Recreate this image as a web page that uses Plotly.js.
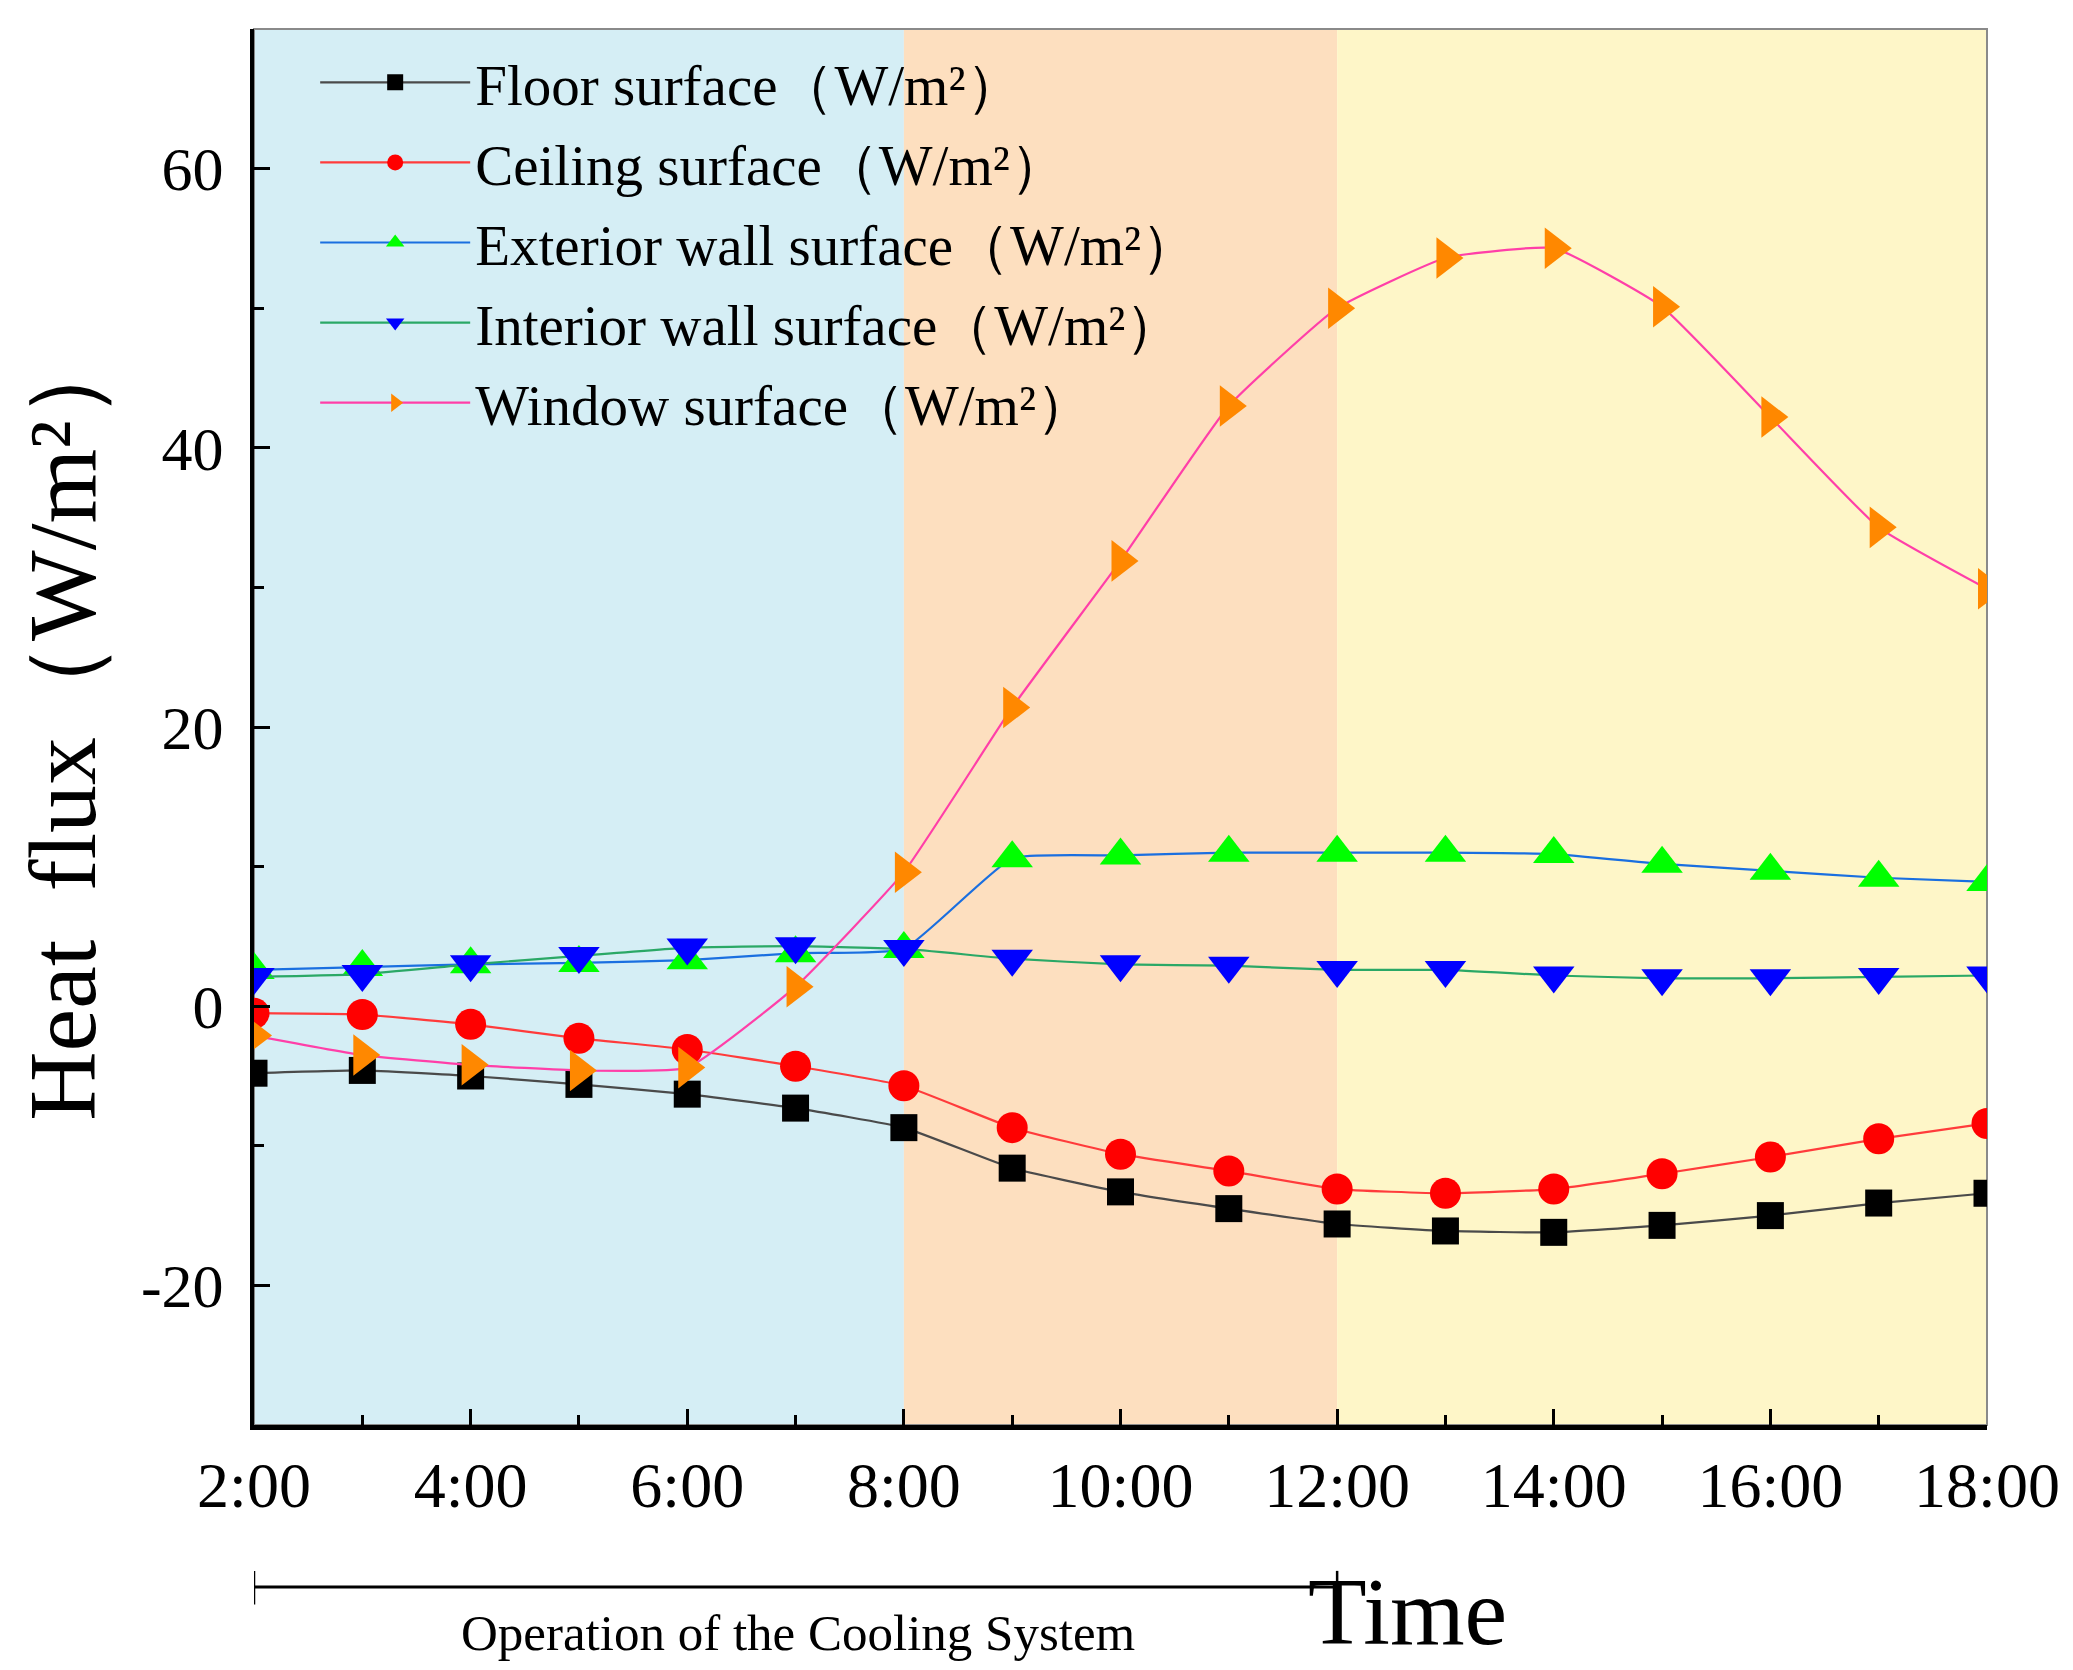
<!DOCTYPE html>
<html>
<head>
<meta charset="utf-8">
<script src="https://cdn.plot.ly/plotly-3.0.1.min.js"></script>
<style>
  html, body { margin: 0; padding: 0; background: #fff; }
  #chart { width: 2073px; height: 1670px; }
</style>
</head>
<body>
<div id="chart"></div>
<script>
// hours of the day (2:00 .. 18:00)
const hours = [2, 3, 4, 5, 6, 7, 8, 9, 10, 11, 12, 13, 14, 15, 16, 17, 18];

// heat flux in W/m2
const floorFlux = [-4.8, -4.6, -5.0, -5.6, -6.3, -7.3, -8.7, -11.6, -13.3, -14.5, -15.6, -16.1, -16.2, -15.7, -15.0, -14.1, -13.4];
const ceilingFlux = [-0.5, -0.6, -1.3, -2.3, -3.1, -4.3, -5.7, -8.7, -10.6, -11.8, -13.1, -13.4, -13.1, -12.0, -10.8, -9.5, -8.4];
const exteriorFlux = [2.6, 2.8, 3.0, 3.1, 3.3, 3.8, 4.1, 10.6, 10.8, 11.0, 11.0, 11.0, 10.9, 10.2, 9.7, 9.2, 8.9];
const interiorFlux = [2.1, 2.3, 3.0, 3.6, 4.2, 4.3, 4.1, 3.4, 3.0, 2.9, 2.6, 2.6, 2.2, 2.0, 2.0, 2.1, 2.2];
const windowFlux = [-2.1, -3.5, -4.2, -4.6, -4.4, 1.4, 9.6, 21.4, 31.9, 43.0, 50.0, 53.6, 54.3, 50.1, 42.2, 34.3, 29.9];

const tickHours = [2, 4, 6, 8, 10, 12, 14, 16, 18];
const tickLabels = ['2:00', '4:00', '6:00', '8:00', '10:00', '12:00', '14:00', '16:00', '18:00'];
const fluxTicks = [-20, 0, 20, 40, 60];
const fluxLabels = ['-20', '0', '20', '40', '60'];

// background periods of the day
const periodStart = [2, 8, 12];
const periodEnd = [8, 12, 18];
const periodColor = ['#d5eef5', '#fddfbf', '#fef6c8'];

// cooling system runs from 2:00 to 12:00
const coolingStart = 2;
const coolingEnd = 12;

const FONT = '"Liberation Serif", "DejaVu Serif", serif';
const unit = '（W/m²）';

function series (name, y, lineColor, symbol, markerColor, size) {
  return {
    type: 'scatter',
    mode: 'lines+markers',
    name: name + unit,
    legendgroup: name,
    x: hours,
    y: y,
    line: { color: lineColor, width: 2.2, shape: 'spline', smoothing: 0.4 },
    marker: { symbol: symbol, color: markerColor, size: size, line: { width: 0 } }
  };
}

const data = [
  series('Floor surface', floorFlux, '#4a4a4a', 'square', '#000000', 27),
  series('Ceiling surface', ceilingFlux, '#ff3b3b', 'circle', '#ff0000', 31),
  series('Exterior wall surface', exteriorFlux, '#1a6fe0', 'triangle-up', '#00ff00', 36),
  series('Interior wall surface', interiorFlux, '#2aa866', 'triangle-down', '#0000ff', 36),
  series('Window surface', windowFlux, '#ff3fa8', 'triangle-right', '#ff8800', 36)
];

const shapes = periodStart.map((s, i) => ({
  type: 'rect', xref: 'x', yref: 'paper', layer: 'below',
  x0: s, x1: periodEnd[i], y0: 0, y1: 1,
  fillcolor: periodColor[i], line: { width: 0 }
}));

// thin grey frame on top and right
shapes.push({
  type: 'rect', xref: 'paper', yref: 'paper', layer: 'below',
  x0: 0, x1: 1, y0: 0, y1: 1,
  line: { color: '#8a8a8a', width: 2 }
});

// bracket for the cooling system period
const bracketY = -0.116;
shapes.push(
  { type: 'line', xref: 'x', yref: 'paper', x0: coolingStart, x1: coolingEnd, y0: bracketY, y1: bracketY,
    line: { color: '#000', width: 3 } },
  { type: 'line', xref: 'x', yref: 'paper', x0: coolingStart, x1: coolingStart, y0: bracketY + 0.0115, y1: bracketY - 0.0125,
    line: { color: '#000', width: 2.5 } },
  { type: 'line', xref: 'x', yref: 'paper', x0: coolingEnd, x1: coolingEnd, y0: bracketY + 0.0115, y1: bracketY - 0.0125,
    line: { color: '#000', width: 2.5 } }
);

const layout = {
  width: 2073,
  height: 1670,
  margin: { l: 254, r: 86, t: 29, b: 245 },
  paper_bgcolor: '#ffffff',
  plot_bgcolor: '#ffffff',
  font: { family: FONT, color: '#000', size: 56 },
  showlegend: true,
  legend: {
    x: 0.0353, y: 0.993, xanchor: 'left', yanchor: 'top',
    bgcolor: 'rgba(0,0,0,0)', borderwidth: 0,
    font: { family: FONT, size: 57, color: '#000' },
    tracegroupgap: 3,
    itemwidth: 150,
    itemsizing: 'trace'
  },
  xaxis: {
    range: [2, 18],
    tickmode: 'array',
    tickvals: tickHours,
    ticktext: tickLabels,
    ticks: 'inside', ticklen: 16, tickwidth: 3, tickcolor: '#000',
    minor: { tickmode: 'linear', tick0: 2, dtick: 1, ticks: 'inside', ticklen: 10, tickwidth: 3, tickcolor: '#000' },
    showline: true, linecolor: '#000', linewidth: 5,
    showgrid: false, zeroline: false,
    tickfont: { family: FONT, size: 64, color: '#000' },
    ticklabelstandoff: 0
  },
  yaxis: {
    range: [-30, 70],
    tickmode: 'array',
    tickvals: fluxTicks,
    ticktext: fluxLabels,
    ticks: 'inside', ticklen: 16, tickwidth: 3, tickcolor: '#000',
    minor: { tickmode: 'linear', tick0: 0, dtick: 10, ticks: 'inside', ticklen: 10, tickwidth: 3, tickcolor: '#000' },
    showline: true, linecolor: '#000', linewidth: 4,
    showgrid: false, zeroline: false,
    tickfont: { family: FONT, size: 62, color: '#000' },
    ticklabelstandoff: 14
  },
  shapes: shapes,
  annotations: [
    {
      text: 'Heat  flux（W/m²）', textangle: -90,
      xref: 'paper', yref: 'paper', x: -0.111, y: 0.5035,
      xanchor: 'center', yanchor: 'middle', showarrow: false,
      font: { family: FONT, size: 96, color: '#000' }
    },
    {
      text: 'Time',
      xref: 'x', yref: 'paper', x: 12.65, y: -0.1335,
      xanchor: 'center', yanchor: 'middle', showarrow: false,
      font: { family: FONT, size: 96, color: '#000' }
    },
    {
      text: 'Operation of the Cooling System',
      xref: 'x', yref: 'paper', x: 7.02, y: -0.149,
      xanchor: 'center', yanchor: 'middle', showarrow: false,
      font: { family: FONT, size: 51, color: '#000' }
    }
  ]
};

Plotly.newPlot('chart', data, layout, { displayModeBar: false, staticPlot: true });
</script>
</body>
</html>
